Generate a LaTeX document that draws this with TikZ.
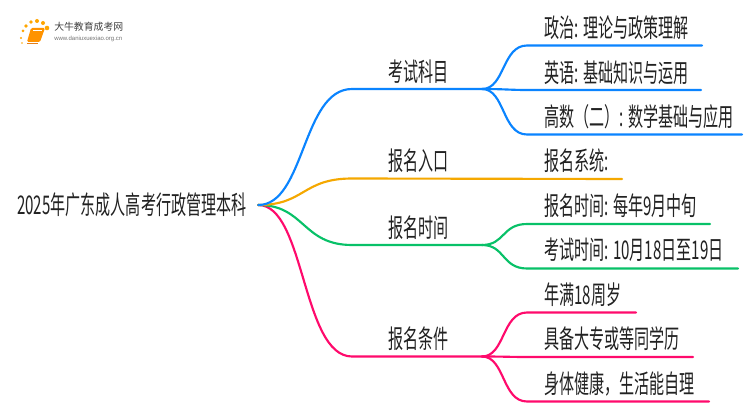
\documentclass[tikz,border=0pt]{standalone}
\usepackage{fontspec}
\setmainfont[FakeStretch=0.585]{Noto Sans CJK SC}
\newfontfamily\logofont{Noto Sans CJK SC}
\newfontfamily\urlfont{Liberation Sans}
\definecolor{cblue}{HTML}{0A84FF}
\definecolor{corange}{HTML}{F5A800}
\definecolor{cgreen}{HTML}{08C168}
\definecolor{cpink}{HTML}{FF0A6C}
\definecolor{ctext}{HTML}{222222}
\tikzset{
  x=0.75pt,y=-0.75pt,
  branch/.style={line width=1.6pt,line cap=round},
  lab/.style={anchor=west,inner sep=0pt,text=ctext,font=\fontsize{19.3}{21}\selectfont},
  pt/.style={inner sep=0pt,minimum size=0pt},
}
\begin{document}
\begin{tikzpicture}
\useasboundingbox (0,0) rectangle (750,410);
\fill[white] (0,0) rectangle (750,410);
% logo
\foreach \a/\b/\r in {22/43/.8,21/38/1.2,23/31/1.5,26/26/1.8,31/22/1.9,37/21/2,43/23/2,47/28/2.3}
  \fill[orange!70!yellow] (\a,\b) circle[radius=\r];
\fill[orange!85!yellow,rounded corners=1pt] (31,28) -- (45,28) -- (40,42) -- (27,42) -- cycle;
\draw[white,line width=.3pt] (33,30) -- (42,30);
\draw[orange!60!brown,line width=.6pt] (27,43) -- (38,43);
\node[pt,anchor=west,text=black!75,font=\logofont\fontsize{7.4}{8}\selectfont] (logotxt) at (54,27) {大牛教育成考网};
\node[pt,anchor=west,text=black!55,font=\urlfont\fontsize{4.5}{5}\selectfont] (logourl) at (54,38.5) {www.daniuxuexiao.org.cn};
\node[pt] (root) at (258,205) {};
\node[lab] (roott) at (17,205) {2025年广东成人高考行政管理本科};
\coordinate (a1) at (482,89);
\coordinate (a2) at (622,179);
\coordinate (a3) at (482,245);
\coordinate (a4) at (482,356.5);
\coordinate (b1) at (702,45.5);
\coordinate (b2) at (701,90);
\coordinate (b3) at (742,134.5);
\coordinate (c1) at (710,224);
\coordinate (c2) at (738,268.5);
\coordinate (d1) at (636,312.5);
\coordinate (d2) at (693,357);
\coordinate (d3) at (709,401.5);
\draw[branch,cpink] (root) .. controls (305,205) and (302,356.5) .. (352,356.5) -- (a4);
\draw[branch,cgreen] (root) .. controls (305,205) and (302,245) .. (352,245) -- (a3);
\draw[branch,corange] (root) .. controls (305,205) and (302,178.5) .. (352,178.5) -- (a2);
\draw[branch,cblue] (root) .. controls (305,205) and (302,89) .. (352,89) -- (a1);
\draw[branch,cblue] (a1) .. controls (505,89) and (502,45.5) .. (527,45.5) -- (b1);
\draw[branch,cblue] (a1) .. controls (505,89) and (510,90) .. (527,90) -- (b2);
\draw[branch,cblue] (a1) .. controls (505,89) and (502,134.5) .. (527,134.5) -- (b3);
\draw[branch,cgreen] (a3) .. controls (505,245) and (502,224) .. (527,224) -- (c1);
\draw[branch,cgreen] (a3) .. controls (505,245) and (502,268.5) .. (527,268.5) -- (c2);
\draw[branch,cpink] (a4) .. controls (505,356.5) and (502,312.5) .. (527,312.5) -- (d1);
\draw[branch,cpink] (a4) .. controls (505,356.5) and (510,357) .. (527,357) -- (d2);
\draw[branch,cpink] (a4) .. controls (505,356.5) and (502,401.5) .. (527,401.5) -- (d3);
\node[lab] (t1) at (388,72) {考试科目};
\node[lab] (t2) at (388,161) {报名入口};
\node[lab] (t3) at (388,228) {报名时间};
\node[lab] (t4) at (388,339) {报名条件};
\node[lab] (s1) at (544,28) {政治: 理论与政策理解};
\node[lab] (s2) at (544,73) {英语: 基础知识与运用};
\node[lab] (s3) at (544,117) {高数（二）: 数学基础与应用};
\node[lab] (s4) at (544,161) {报名系统:};
\node[lab] (s5) at (544,206) {报名时间: 每年9月中旬};
\node[lab] (s6) at (544,250) {考试时间: 10月18日至19日};
\node[lab] (s7) at (544,295) {年满18周岁};
\node[lab] (s8) at (544,339) {具备大专或等同学历};
\node[lab] (s9) at (544,384) {身体健康，生活能自理};
\end{tikzpicture}
\end{document}
